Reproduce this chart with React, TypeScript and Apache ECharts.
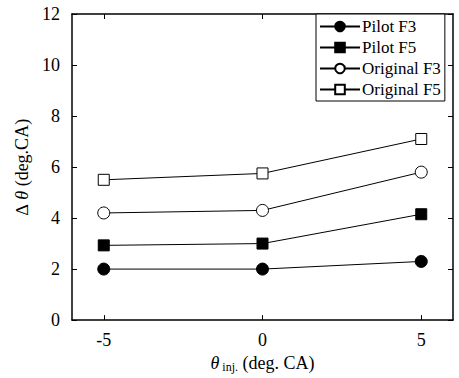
import React, { useEffect, useRef } from "react";
import * as echarts from "echarts";

const xValues = [-5, 0, 5];
const xTickValues = [-5, 0, 5];
const pilotF3 = [2.0, 2.0, 2.3];
const pilotF5 = [2.93, 3.0, 4.15];
const originalF3 = [4.2, 4.3, 5.8];
const originalF5 = [5.5, 5.75, 7.1];
const seriesNames = ["Pilot F3", "Pilot F5", "Original F3", "Original F5"];

const FONT = "Liberation Serif";

export default function App() {
  const ref = useRef<HTMLDivElement>(null);
  useEffect(() => {
    if (!ref.current) return;
    const chart = echarts.init(ref.current, undefined, { renderer: "svg" });
    const mk = (name: string, vals: number[], symbol: string, filled: boolean) => ({
      name,
      type: "line",
      data: xValues.map((x, i) => [x, vals[i]]),
      symbol,
      symbolSize: symbol === "rect" ? 11 : 12,
      showSymbol: true,
      lineStyle: { color: "#000", width: 1 },
      itemStyle: {
        color: filled ? "#000" : "#fff",
        borderColor: "#000",
        borderWidth: 1,
      },
      emphasis: { disabled: true },
      z: 3,
    });
    const axisLineStyle = { onZero: false, lineStyle: { color: "#000", width: 1.5 } };
    chart.setOption({
      animation: false,
      backgroundColor: "#fff",
      grid: { left: 72, right: 6, top: 14, bottom: 56 },
      legend: {
        data: seriesNames,
        orient: "vertical",
        left: 316,
        top: 14,
        itemGap: 4,
        itemWidth: 40,
        itemHeight: 12,
        padding: [4, 4, 3, 3],
        borderColor: "#000",
        borderWidth: 1,
        backgroundColor: "#fff",
        textStyle: { fontFamily: FONT, fontSize: 17, color: "#000", padding: [0, 0, 0, -3] },
      },
      xAxis: [
        {
          type: "value",
          min: -6,
          max: 6,
          position: "bottom",
          axisLine: axisLineStyle,
          axisTick: { inside: true, length: 5, customValues: xTickValues, lineStyle: { color: "#000" } },
          axisLabel: {
            customValues: xTickValues,
            fontFamily: FONT,
            fontSize: 18,
            color: "#000",
            margin: 11,
          },
          splitLine: { show: false },
          name: "{th|θ}{sub| inj.} (deg. CA)",
          nameLocation: "middle",
          nameGap: 31,
          nameTextStyle: {
            fontFamily: FONT,
            fontSize: 18,
            color: "#000",
            rich: {
              th: { fontFamily: FONT, fontStyle: "italic", fontSize: 18, color: "#000" },
              sub: { fontFamily: FONT, fontSize: 12, color: "#000", verticalAlign: "bottom", padding: [8, 0, 0, 0] },
            },
          },
        },
        {
          type: "value",
          min: -6,
          max: 6,
          position: "top",
          axisLine: axisLineStyle,
          axisTick: { inside: true, length: 5, customValues: xTickValues, lineStyle: { color: "#000" } },
          axisLabel: { show: false },
          splitLine: { show: false },
        },
      ],
      yAxis: [
        {
          type: "value",
          min: 0,
          max: 12,
          interval: 2,
          position: "left",
          axisLine: { show: true, ...axisLineStyle },
          axisTick: { show: true, inside: true, length: 5, lineStyle: { color: "#000" } },
          axisLabel: { fontFamily: FONT, fontSize: 18, color: "#000", margin: 12 },
          splitLine: { show: false },
          name: "∆ {th|θ} (deg.CA)",
          nameLocation: "middle",
          nameRotate: 90,
          nameGap: 36,
          nameTextStyle: {
            fontFamily: FONT,
            fontSize: 18,
            color: "#000",
            rich: { th: { fontFamily: FONT, fontStyle: "italic", fontSize: 18, color: "#000" } },
          },
        },
        {
          type: "value",
          min: 0,
          max: 12,
          interval: 2,
          position: "right",
          axisLine: { show: true, ...axisLineStyle },
          axisTick: { show: true, inside: true, length: 5, lineStyle: { color: "#000" } },
          axisLabel: { show: false },
          splitLine: { show: false },
        },
      ],
      series: [
        mk(seriesNames[0], pilotF3, "circle", true),
        mk(seriesNames[1], pilotF5, "rect", true),
        mk(seriesNames[2], originalF3, "circle", false),
        mk(seriesNames[3], originalF5, "rect", false),
      ],
    });
    return () => chart.dispose();
  }, []);
  return (
    <div
      ref={ref}
      style={{ position: "fixed", left: 0, top: 0, width: 459, height: 378 }}
    />
  );
}
